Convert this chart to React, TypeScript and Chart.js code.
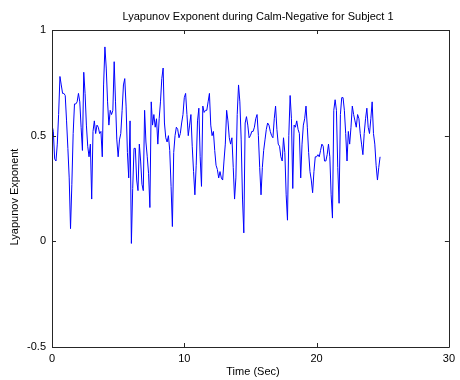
import React, { useEffect, useRef } from "react";
import { Chart, registerables } from "chart.js";

Chart.register(...registerables);

const chartTitle = "Lyapunov Exponent during Calm-Negative for Subject 1";
const xAxisTitle = "Time (Sec)";
const yAxisTitle = "Lyapunov Exponent";

const xTicks = [0, 10, 20, 30];
const yTicks = [-0.5, 0, 0.5, 1];
const yTickLabels = ["-0.5", "0", "0.5", "1"];

// sampling interval of the series, seconds
const sampleStep = 0.1;

const lyapunov0to4 = [
  0.55, 0.52, 0.39, 0.38, 0.46, 0.6, 0.78, 0.74, 0.7, 0.7,
  0.69, 0.57, 0.44, 0.3, 0.06, 0.27, 0.51, 0.65, 0.65, 0.66,
  0.7, 0.66, 0.54, 0.43, 0.8, 0.7, 0.55, 0.45, 0.4, 0.46,
  0.2, 0.52, 0.57, 0.51, 0.55, 0.54, 0.51, 0.52, 0.4, 0.74,
  0.92, 0.82,
];
const lyapunov4to8 = [
  0.66, 0.55, 0.62, 0.6, 0.62, 0.85, 0.66, 0.48, 0.4, 0.48,
  0.51, 0.62, 0.74, 0.77, 0.64, 0.42, 0.3, 0.57, -0.01, 0.25,
  0.44, 0.44, 0.29, 0.24, 0.46, 0.38, 0.27, 0.24, 0.62, 0.47,
  0.4, 0.32, 0.16, 0.66, 0.55, 0.6, 0.54, 0.58, 0.46, 0.58,
  0.66, 0.77,
];
const lyapunov8to12 = [
  0.82, 0.56, 0.49, 0.47, 0.5, 0.43, 0.26, 0.07, 0.42, 0.5,
  0.54, 0.53, 0.49, 0.51, 0.56, 0.6, 0.68, 0.7, 0.6, 0.5,
  0.55, 0.6, 0.45, 0.33, 0.22, 0.36, 0.57, 0.63, 0.4, 0.26,
  0.64, 0.61, 0.62, 0.62, 0.66, 0.7, 0.55, 0.5, 0.52, 0.43,
  0.36, 0.34,
];
const lyapunov12to16 = [
  0.3, 0.33, 0.3, 0.29, 0.38, 0.46, 0.62, 0.57, 0.49, 0.46,
  0.49, 0.35, 0.2, 0.3, 0.6, 0.74, 0.66, 0.48, 0.2, 0.04,
  0.56, 0.59, 0.55, 0.49, 0.5, 0.52, 0.52, 0.54, 0.58, 0.6,
  0.5, 0.35, 0.22, 0.35, 0.43, 0.48, 0.53, 0.56, 0.55, 0.52,
  0.5, 0.49,
];
const lyapunov16to20 = [
  0.58, 0.64, 0.53, 0.46, 0.45, 0.4, 0.38, 0.49, 0.42, 0.22,
  0.1, 0.5, 0.69, 0.58, 0.25, 0.55, 0.54, 0.57, 0.53, 0.51,
  0.3, 0.46, 0.55, 0.58, 0.64, 0.54, 0.42, 0.33, 0.29, 0.23,
  0.33, 0.4, 0.4, 0.41, 0.4, 0.43, 0.46, 0.45, 0.38, 0.38,
  0.41, 0.46,
];
const lyapunov21to25 = [
  0.4, 0.22, 0.11, 0.62, 0.67, 0.62, 0.35, 0.18, 0.6, 0.68,
  0.68, 0.62, 0.51, 0.38, 0.52, 0.46, 0.54, 0.64, 0.6, 0.57,
  0.54, 0.6, 0.58, 0.51, 0.46, 0.41, 0.51, 0.58, 0.63, 0.54,
  0.51, 0.58, 0.66, 0.51, 0.46, 0.36, 0.29, 0.35, 0.4,
];

const lyapunovValues = [
  ...lyapunov0to4,
  ...lyapunov4to8,
  ...lyapunov8to12,
  ...lyapunov12to16,
  ...lyapunov16to20,
  ...lyapunov21to25,
];

const FONT = "'Liberation Sans', Arial, sans-serif";
const FRAME = "#262626";

const matlabFrame = {
  id: "matlabFrame",
  afterDraw(chart: any) {
    const { ctx, chartArea } = chart;
    const { left, right, top, bottom } = chartArea;
    const xs = chart.scales.x;
    const ys = chart.scales.y;
    ctx.save();
    ctx.strokeStyle = FRAME;
    ctx.lineWidth = 1;
    ctx.beginPath();
    ctx.rect(Math.round(left) + 0.5, Math.round(top) + 0.5, Math.round(right - left), Math.round(bottom - top));
    ctx.stroke();
    const tl = 4;
    ctx.beginPath();
    for (const t of xTicks) {
      const px = Math.round(xs.getPixelForValue(t)) + 0.5;
      ctx.moveTo(px, bottom);
      ctx.lineTo(px, bottom - tl);
      ctx.moveTo(px, top);
      ctx.lineTo(px, top + tl);
    }
    for (const t of yTicks) {
      const py = Math.round(ys.getPixelForValue(t)) + 0.5;
      ctx.moveTo(left, py);
      ctx.lineTo(left + tl, py);
      ctx.moveTo(right, py);
      ctx.lineTo(right - tl, py);
    }
    ctx.stroke();

    ctx.fillStyle = "#000";
    ctx.font = `11px ${FONT}`;
    ctx.textAlign = "center";
    ctx.textBaseline = "middle";
    ctx.fillText(chartTitle, 258, 17);
    ctx.fillText(xAxisTitle, 253, 372);
    ctx.translate(15, 197);
    ctx.rotate(-Math.PI / 2);
    ctx.fillText(yAxisTitle, 0, 0);
    ctx.restore();
  },
};

export default function App() {
  const canvasRef = useRef<HTMLCanvasElement | null>(null);

  useEffect(() => {
    if (!canvasRef.current) return;
    const points = lyapunovValues.map((v, i) => ({ x: +(i * sampleStep).toFixed(1), y: v }));
    const chart = new Chart(canvasRef.current, {
      type: "line",
      data: {
        datasets: [
          {
            data: points,
            borderColor: "rgb(0,0,255)",
            borderWidth: 1,
            pointRadius: 0,
            tension: 0,
            fill: false,
          },
        ],
      },
      options: {
        animation: false,
        responsive: false,
        devicePixelRatio: 1,
        layout: { padding: { left: 12, right: 6, top: 30, bottom: 0 } },
        plugins: {
          legend: { display: false },
          title: { display: false },
          tooltip: { enabled: false },
        },
        scales: {
          x: {
            type: "linear",
            min: 0,
            max: 30,
            afterBuildTicks: (scale: any) => {
              scale.ticks = xTicks.map((v) => ({ value: v }));
            },
            afterFit: (scale: any) => {
              scale.height = 33;
            },
            grid: { display: false, drawTicks: false },
            border: { display: false },
            ticks: {
              padding: 5,
              color: "#000",
              font: { family: FONT, size: 11 },
              maxRotation: 0,
              callback: (value: any) => String(value),
            },
          },
          y: {
            type: "linear",
            min: -0.5,
            max: 1,
            afterBuildTicks: (scale: any) => {
              scale.ticks = yTicks.map((v) => ({ value: v }));
            },
            afterFit: (scale: any) => {
              scale.width = 40;
            },
            grid: { display: false, drawTicks: false },
            border: { display: false },
            ticks: {
              padding: 6,
              color: "#000",
              font: { family: FONT, size: 11 },
              callback: (value: any) => {
                const idx = yTicks.indexOf(Number(value));
                return idx >= 0 ? yTickLabels[idx] : String(value);
              },
            },
          },
        },
      },
      plugins: [matlabFrame],
    });
    return () => chart.destroy();
  }, []);

  return (
    <div style={{ position: "fixed", left: 0, top: 0, width: 460, height: 380, background: "#fff" }}>
      <canvas ref={canvasRef} width={460} height={380} />
    </div>
  );
}
